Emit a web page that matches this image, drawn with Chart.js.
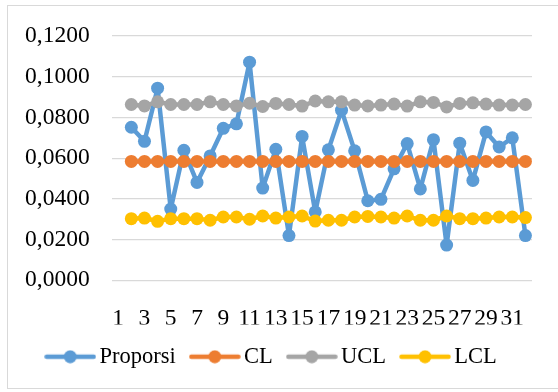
<!DOCTYPE html>
<html>
<head>
<meta charset="utf-8">
<script src="https://cdn.jsdelivr.net/npm/chart.js@4"></script>
<style>
  html, body { margin: 0; padding: 0; background: #fff; }
  body { width: 558px; height: 392px; position: relative; overflow: hidden; }
  #frame { position: absolute; left: 7px; top: 5px; width: 600px; height: 384px; border: 1px solid #d9d9d9; box-sizing: border-box; }
  #wrap { position: absolute; left: 0; top: 0; width: 558px; height: 392px; }
</style>
</head>
<body>
<div id="frame"></div>
<div id="wrap"><canvas id="c" width="558" height="392"></canvas></div>
<script>
const categories = ['1','2','3','4','5','6','7','8','9','10','11','12','13','14','15','16','17','18','19','20','21','22','23','24','25','26','27','28','29','30','31','32'];
const proporsi = [null, 0.0752, 0.0683, 0.0944, 0.0350, 0.0639, 0.0481, 0.0611, 0.0747, 0.0769, 0.1072, 0.0453, 0.0644, 0.0220, 0.0707, 0.0336, 0.0641, 0.0836, 0.0636, 0.0391, 0.0398, 0.0548, 0.0672, 0.0449, 0.0691, 0.0173, 0.0674, 0.0491, 0.0729, 0.0655, 0.0700, 0.0220];
const cl = [null, 0.0584, 0.0584, 0.0584, 0.0584, 0.0584, 0.0584, 0.0584, 0.0584, 0.0584, 0.0584, 0.0584, 0.0584, 0.0584, 0.0584, 0.0584, 0.0584, 0.0584, 0.0584, 0.0584, 0.0584, 0.0584, 0.0584, 0.0584, 0.0584, 0.0584, 0.0584, 0.0584, 0.0584, 0.0584, 0.0584, 0.0584];
const ucl = [null, 0.0864, 0.0857, 0.0877, 0.0864, 0.0864, 0.0864, 0.0877, 0.0864, 0.0857, 0.0870, 0.0854, 0.0869, 0.0864, 0.0856, 0.0881, 0.0877, 0.0877, 0.0861, 0.0857, 0.0861, 0.0866, 0.0856, 0.0877, 0.0874, 0.0852, 0.0869, 0.0872, 0.0866, 0.0861, 0.0861, 0.0864];
const lcl = [null, 0.0303, 0.0306, 0.0290, 0.0303, 0.0303, 0.0303, 0.0295, 0.0311, 0.0311, 0.0300, 0.0316, 0.0306, 0.0311, 0.0316, 0.0291, 0.0295, 0.0295, 0.0311, 0.0314, 0.0311, 0.0306, 0.0316, 0.0295, 0.0295, 0.0316, 0.0303, 0.0303, 0.0306, 0.0311, 0.0311, 0.0308];
const yTicks = [0, 0.02, 0.04, 0.06, 0.08, 0.10, 0.12];

const colors = ['#5B9BD5', '#ED7D31', '#A5A5A5', '#FFC000'];
const names = ['Proporsi', 'CL', 'UCL', 'LCL'];

function legendIcon(color) {
  const cv = document.createElement('canvas');
  cv.width = 52; cv.height = 14;
  const g = cv.getContext('2d');
  g.strokeStyle = color; g.lineWidth = 4.5; g.lineCap = 'round';
  g.beginPath(); g.moveTo(2.5, 7); g.lineTo(49.5, 7); g.stroke();
  g.fillStyle = color;
  g.beginPath(); g.arc(26, 7, 6.5, 0, Math.PI * 2); g.fill();
  return cv;
}

const seriesData = [proporsi, cl, ucl, lcl];
const datasets = seriesData.map((d, i) => ({
  label: names[i],
  data: d,
  borderColor: colors[i],
  backgroundColor: colors[i],
  pointBackgroundColor: colors[i],
  pointBorderColor: colors[i],
  pointBorderWidth: 0,
  pointRadius: 6.5,
  pointHoverRadius: 6.5,
  borderWidth: 4.5,
  borderJoinStyle: 'round',
  borderCapStyle: 'round',
  tension: 0,
  spanGaps: false,
  order: 4 - i,
  pointStyle: 'circle',
  legendIcon: legendIcon(colors[i])
}));

const axisFont = { family: '"Liberation Serif", "Times New Roman", serif', size: 23.5 };
const legendFont = { family: '"Liberation Serif", "Times New Roman", serif', size: 22.5 };

const shiftLegend = {
  id: 'shiftLegend',
  afterLayout(chart) {
    if (chart.legend) { chart.legend.left += 7; chart.legend.right += 7; }
  }
};

new Chart(document.getElementById('c'), {
  type: 'line',
  data: { labels: categories, datasets: datasets },
  plugins: [shiftLegend],
  options: {
    responsive: false,
    animation: false,
    layout: { padding: { left: 3, right: 26, top: 35, bottom: 14 } },
    plugins: {
      tooltip: { enabled: false },
      legend: {
        position: 'bottom',
        labels: {
          font: legendFont,
          color: '#000',
          usePointStyle: true,
          pointStyleWidth: 36,
          boxHeight: 14,
          padding: 21,
          sort: (a, b) => a.datasetIndex - b.datasetIndex,
          generateLabels: (chart) => chart.data.datasets.map((ds, i) => ({
            text: ds.label,
            fillStyle: ds.backgroundColor,
            strokeStyle: ds.borderColor,
            lineWidth: 0,
            pointStyle: ds.legendIcon,
            hidden: false,
            datasetIndex: i
          }))
        }
      }
    },
    scales: {
      x: {
        offset: true,
        grid: { display: false, drawTicks: false },
        border: { display: false },
        afterFit: (axis) => { axis.height -= 32; },
        ticks: {
          font: axisFont,
          color: '#000',
          autoSkip: false,
          maxRotation: 0,
          minRotation: 0,
          padding: 24,
          callback: function(v, idx) { return idx % 2 === 0 ? categories[idx] : ''; }
        }
      },
      y: {
        min: 0,
        max: 0.12,
        afterBuildTicks: (axis) => { axis.ticks = yTicks.map(v => ({ value: v })); },
        grid: { color: '#d9d9d9', lineWidth: 1.3, drawTicks: false },
        border: { display: false },
        ticks: {
          font: axisFont,
          color: '#000',
          padding: 22,
          callback: (v) => v.toFixed(4).replace('.', ',')
        }
      }
    }
  }
});
</script>
</body>
</html>
